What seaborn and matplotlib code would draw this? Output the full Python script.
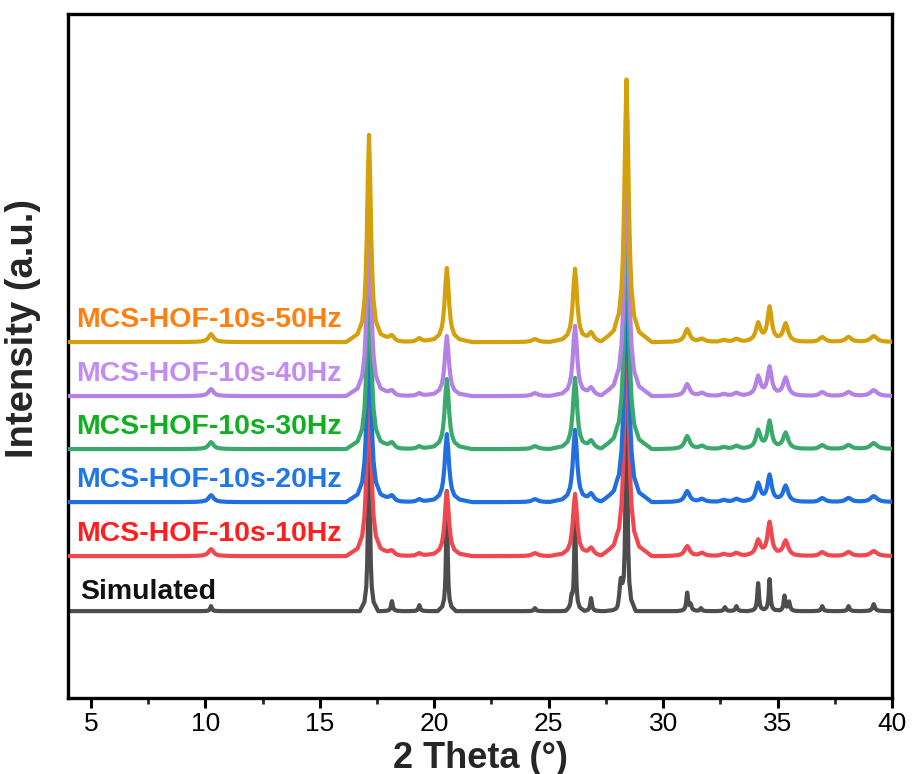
import numpy as np
import pandas as pd
import matplotlib
matplotlib.use("Agg")
import matplotlib.pyplot as plt
from matplotlib import font_manager
import seaborn as sns

# ---------------- data ----------------
SERIES = ["Simulated", "MCS-HOF-10s-10Hz", "MCS-HOF-10s-20Hz",
          "MCS-HOF-10s-30Hz", "MCS-HOF-10s-40Hz", "MCS-HOF-10s-50Hz"]
OFFSETS = [87, 142, 196, 249, 302, 356]          # vertical stacking offsets (a.u.)

# simulated pattern: peak positions (2θ), heights
SIM_POS = [10.25, 17.15, 18.15, 19.35, 20.55, 24.4, 26.0, 26.15, 26.85, 28.15, 28.4,
           31.05, 31.2, 31.65, 32.7, 33.2, 34.15, 34.65, 35.3, 35.5, 36.95, 38.1, 39.2]
SIM_H = [5, 240, 10, 6, 120, 3, 10, 100, 13, 25, 290,
         18, 6, 3, 4, 5, 28, 32, 15, 9, 5, 5, 7]
SIM_HWHM = [0.045, 0.04, 0.045, 0.045, 0.04, 0.05, 0.05, 0.04, 0.045, 0.07, 0.04,
            0.045, 0.05, 0.05, 0.05, 0.05, 0.045, 0.045, 0.045, 0.05, 0.05, 0.05, 0.06]

# experimental patterns: shared peak positions, per-series heights
EXP_POS = [10.25, 17.15, 18.15, 19.35, 20.55, 24.4, 26.15, 26.85, 28.0, 28.4,
           31.05, 31.7, 32.65, 33.2, 34.15, 34.65, 35.35, 36.95, 38.1, 39.2]
EXP_HWHM = [0.13, 0.1, 0.13, 0.13, 0.11, 0.15, 0.11, 0.13, 0.18, 0.11,
            0.13, 0.13, 0.15, 0.15, 0.12, 0.11, 0.13, 0.15, 0.15, 0.17]
H_10HZ = [7, 200, 6, 3, 64, 3, 62, 7, 3, 250, 10, 3, 2, 3, 15, 33, 15, 4, 4, 5]
H_20HZ = [7, 200, 7, 3, 68, 3, 72, 7, 3, 250, 11, 3, 2, 3, 18, 26, 16, 4, 4, 6]
H_30HZ = [7, 200, 7, 3, 70, 3, 71, 7, 3, 250, 13, 3, 2, 3, 18, 27, 16, 4, 4, 6]
H_40HZ = [7, 200, 6, 3, 60, 3, 70, 7, 3, 250, 12, 3, 2, 3, 19, 28, 18, 4, 4, 6]
H_50HZ = [8, 207, 7, 4, 74, 3, 73, 8, 3, 262, 13, 3, 2, 3, 18, 34, 18, 5, 5, 6]

X_TICKS = [5, 10, 15, 20, 25, 30, 35, 40]

# ---------------- style ----------------
LINE_COLORS = ["#4d4d4d", "#f2474f", "#1f6fe0", "#3aaa6c", "#b482e6", "#d4a00c"]
TEXT_COLORS = ["#111111", "#ff1f1f", "#1f78e8", "#10b020", "#c48cf0", "#ff8010"]
# Lorentzian-like line-shape template (offsets in units of HWHM, relative height)
PROFILE_OFFSETS = np.array([-10, -5, -3, -2, -1.5, -1, -0.5, 0, 0.5, 1, 1.5, 2, 3, 5, 10])
PROFILE_SHAPE = np.array([0, .038, .1, .2, .31, .5, .8, 1, .8, .5, .31, .2, .1, .038, 0])


def pattern(pos, heights, hwhm, xmin=4.0, xmax=40.0):
    knots = [xmin, xmax]
    for p, w in zip(pos, hwhm):
        knots.extend(p + PROFILE_OFFSETS * w)
    xs = np.unique(np.clip(knots, xmin, xmax))
    ys = np.zeros_like(xs)
    for p, h, w in zip(pos, heights, hwhm):
        ys += h * np.interp(xs, p + PROFILE_OFFSETS * w, PROFILE_SHAPE, left=0, right=0)
    return xs, ys


sns.set_theme(style="white")
names = {f.name for f in font_manager.fontManager.ttflist}
narrow = "Liberation Sans Narrow" if "Liberation Sans Narrow" in names else "Liberation Sans"
plt.rcParams["font.family"] = ["Liberation Sans", "DejaVu Sans"]

fig = plt.figure(figsize=(9.14, 7.74), dpi=100)
ax = fig.add_axes([0.0744, 0.098, 0.9016, 0.884])

heights_all = [SIM_H, H_10HZ, H_20HZ, H_30HZ, H_40HZ, H_50HZ]
frames = []
for i, name in enumerate(SERIES):
    if i == 0:
        xs, ys = pattern(SIM_POS, SIM_H, SIM_HWHM)
    else:
        xs, ys = pattern(EXP_POS, heights_all[i], EXP_HWHM)
    frames.append(pd.DataFrame({"two_theta": xs, "intensity": ys + OFFSETS[i], "series": name}))

for i, df in enumerate(frames):
    sns.lineplot(data=df, x="two_theta", y="intensity", ax=ax, color=LINE_COLORS[i],
                 linewidth=3.0, sort=False, estimator=None, zorder=2 + i)

# series labels
for i, name in enumerate(SERIES):
    dx = 4.55 if i == 0 else 4.35
    dy = 12 if i == 0 else 15
    ax.text(dx, OFFSETS[i] + dy, name, color=TEXT_COLORS[i], fontsize=20.5,
            fontweight="bold", ha="left", va="baseline", zorder=10)

ax.set_xlim(4, 40)
ax.set_ylim(0, 684)
ax.set_xticks(X_TICKS)
ax.set_xticks(np.arange(7.5, 40, 5), minor=True)
ax.set_yticks([])
for lab in ax.get_xticklabels():
    lab.set_fontfamily(narrow)
ax.tick_params(axis="x", which="major", direction="out", length=7, width=2.2,
               labelsize=19, pad=3, bottom=True, colors="black")
ax.tick_params(axis="x", which="minor", direction="out", length=4, width=2.0, bottom=True)
for s in ax.spines.values():
    s.set_linewidth(2.4)
    s.set_color("black")
    s.set_visible(True)

ax.set_xlabel("2 Theta (°)", fontsize=26, fontweight="bold", family=narrow)
ax.xaxis.set_label_coords(0.5, -0.062)
ax.set_ylabel("Intensity (a.u.)", fontsize=27.5, fontweight="bold")
ax.yaxis.set_label_coords(-0.033, 0.54)

fig.savefig("out.png", dpi=100, facecolor="white")
